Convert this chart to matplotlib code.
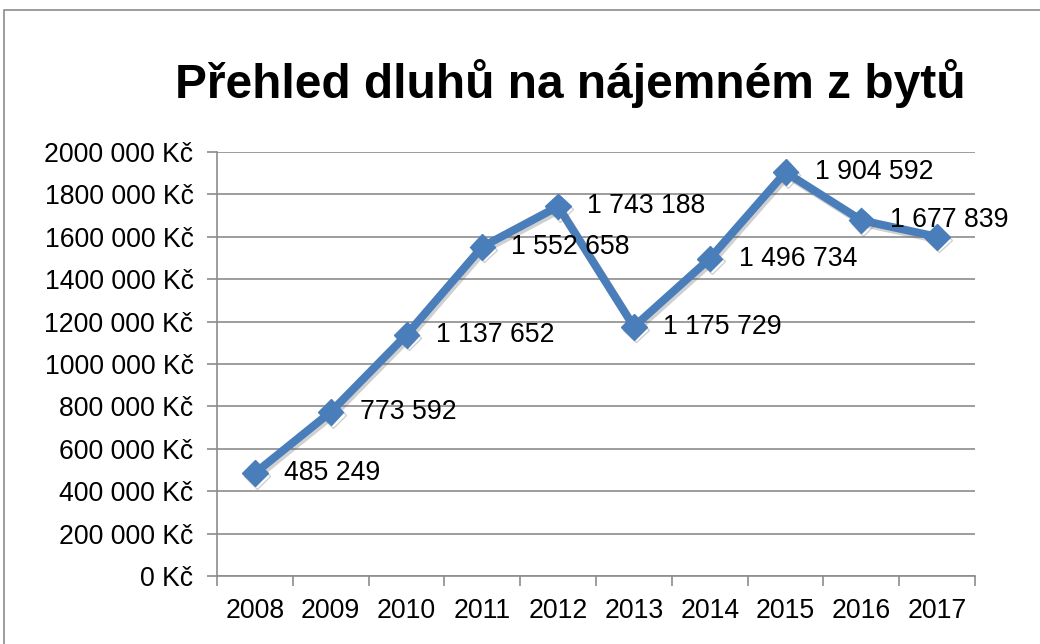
import matplotlib
matplotlib.use("Agg")
import matplotlib.pyplot as plt
import matplotlib.patches as mpatches
import matplotlib.patheffects as pe

# data
years = ["2008", "2009", "2010", "2011", "2012", "2013", "2014", "2015", "2016", "2017"]
debts = [485249, 773592, 1137652, 1552658, 1743188, 1175729, 1496734, 1904592, 1677839, 1600000]
show_label = [True, True, True, True, True, True, True, True, True, False]
y_ticks = [0, 200000, 400000, 600000, 800000, 1000000, 1200000, 1400000, 1600000, 1800000, 2000000]
y_tick_labels = ["0 Kč", "200 000 Kč", "400 000 Kč", "600 000 Kč", "800 000 Kč", "1000 000 Kč",
                 "1200 000 Kč", "1400 000 Kč", "1600 000 Kč", "1800 000 Kč", "2000 000 Kč"]

plt.rcParams['font.family'] = ['Liberation Sans', 'DejaVu Sans']

line_color = '#4a7ebb'
grid_color = '#8c8c8c'
fs = 19.2

fig = plt.figure(figsize=(10.4, 6.44), dpi=100)

# outer chart border (Excel chart area)
fig.patches.append(mpatches.Rectangle((4 / 1040, -0.1), 1.2, 1 - 10 / 644 + 0.1,
                                      transform=fig.transFigure, fill=False,
                                      edgecolor='#8c8c8c', linewidth=1.2))

ax = fig.add_axes([217 / 1040, 68 / 644, 758 / 1040, 424 / 644])

x = list(range(len(years)))
ax.plot(x, debts, color=line_color, linewidth=5.8, marker='D', markersize=13,
        markerfacecolor=line_color, markeredgecolor=line_color, solid_joinstyle='miter',
        path_effects=[pe.SimpleLineShadow(offset=(1.5, -2), shadow_color='#666666', alpha=0.3),
                      pe.Normal()], zorder=3)

for xi, v, show in zip(x, debts, show_label):
    if not show:
        continue
    txt = f"{v:,}".replace(",", " ")
    ax.annotate(txt, (xi, v), xytext=(21, 0), textcoords='offset points',
                ha='left', va='center', fontsize=fs, color='black', zorder=4)

ax.set_xlim(-0.5, len(years) - 0.5)
ax.set_ylim(0, 2000000)
ax.set_yticks(y_ticks)
ax.set_yticklabels(y_tick_labels, fontsize=fs)
ax.set_xticks(x)
ax.set_xticklabels(years, fontsize=fs)
ax.set_xticks([i - 0.5 for i in range(len(years) + 1)], minor=True)

ax.tick_params(axis='x', which='major', length=0, pad=16)
ax.tick_params(axis='x', which='minor', length=7, width=1.2, color=grid_color, direction='out')
ax.tick_params(axis='y', length=7, width=1.2, color=grid_color, direction='out', pad=10)

ax.yaxis.grid(True, color=grid_color, linewidth=1.2)
ax.set_axisbelow(True)
for s in ['top', 'right']:
    ax.spines[s].set_visible(False)
for s in ['left', 'bottom']:
    ax.spines[s].set_color(grid_color)
    ax.spines[s].set_linewidth(1.2)

fig.text(570 / 1040, 1 - 84 / 644, "Přehled dluhů na nájemném z bytů", ha='center', va='center',
         fontsize=34.5, fontweight='bold')

fig.savefig("out.png", dpi=100)
